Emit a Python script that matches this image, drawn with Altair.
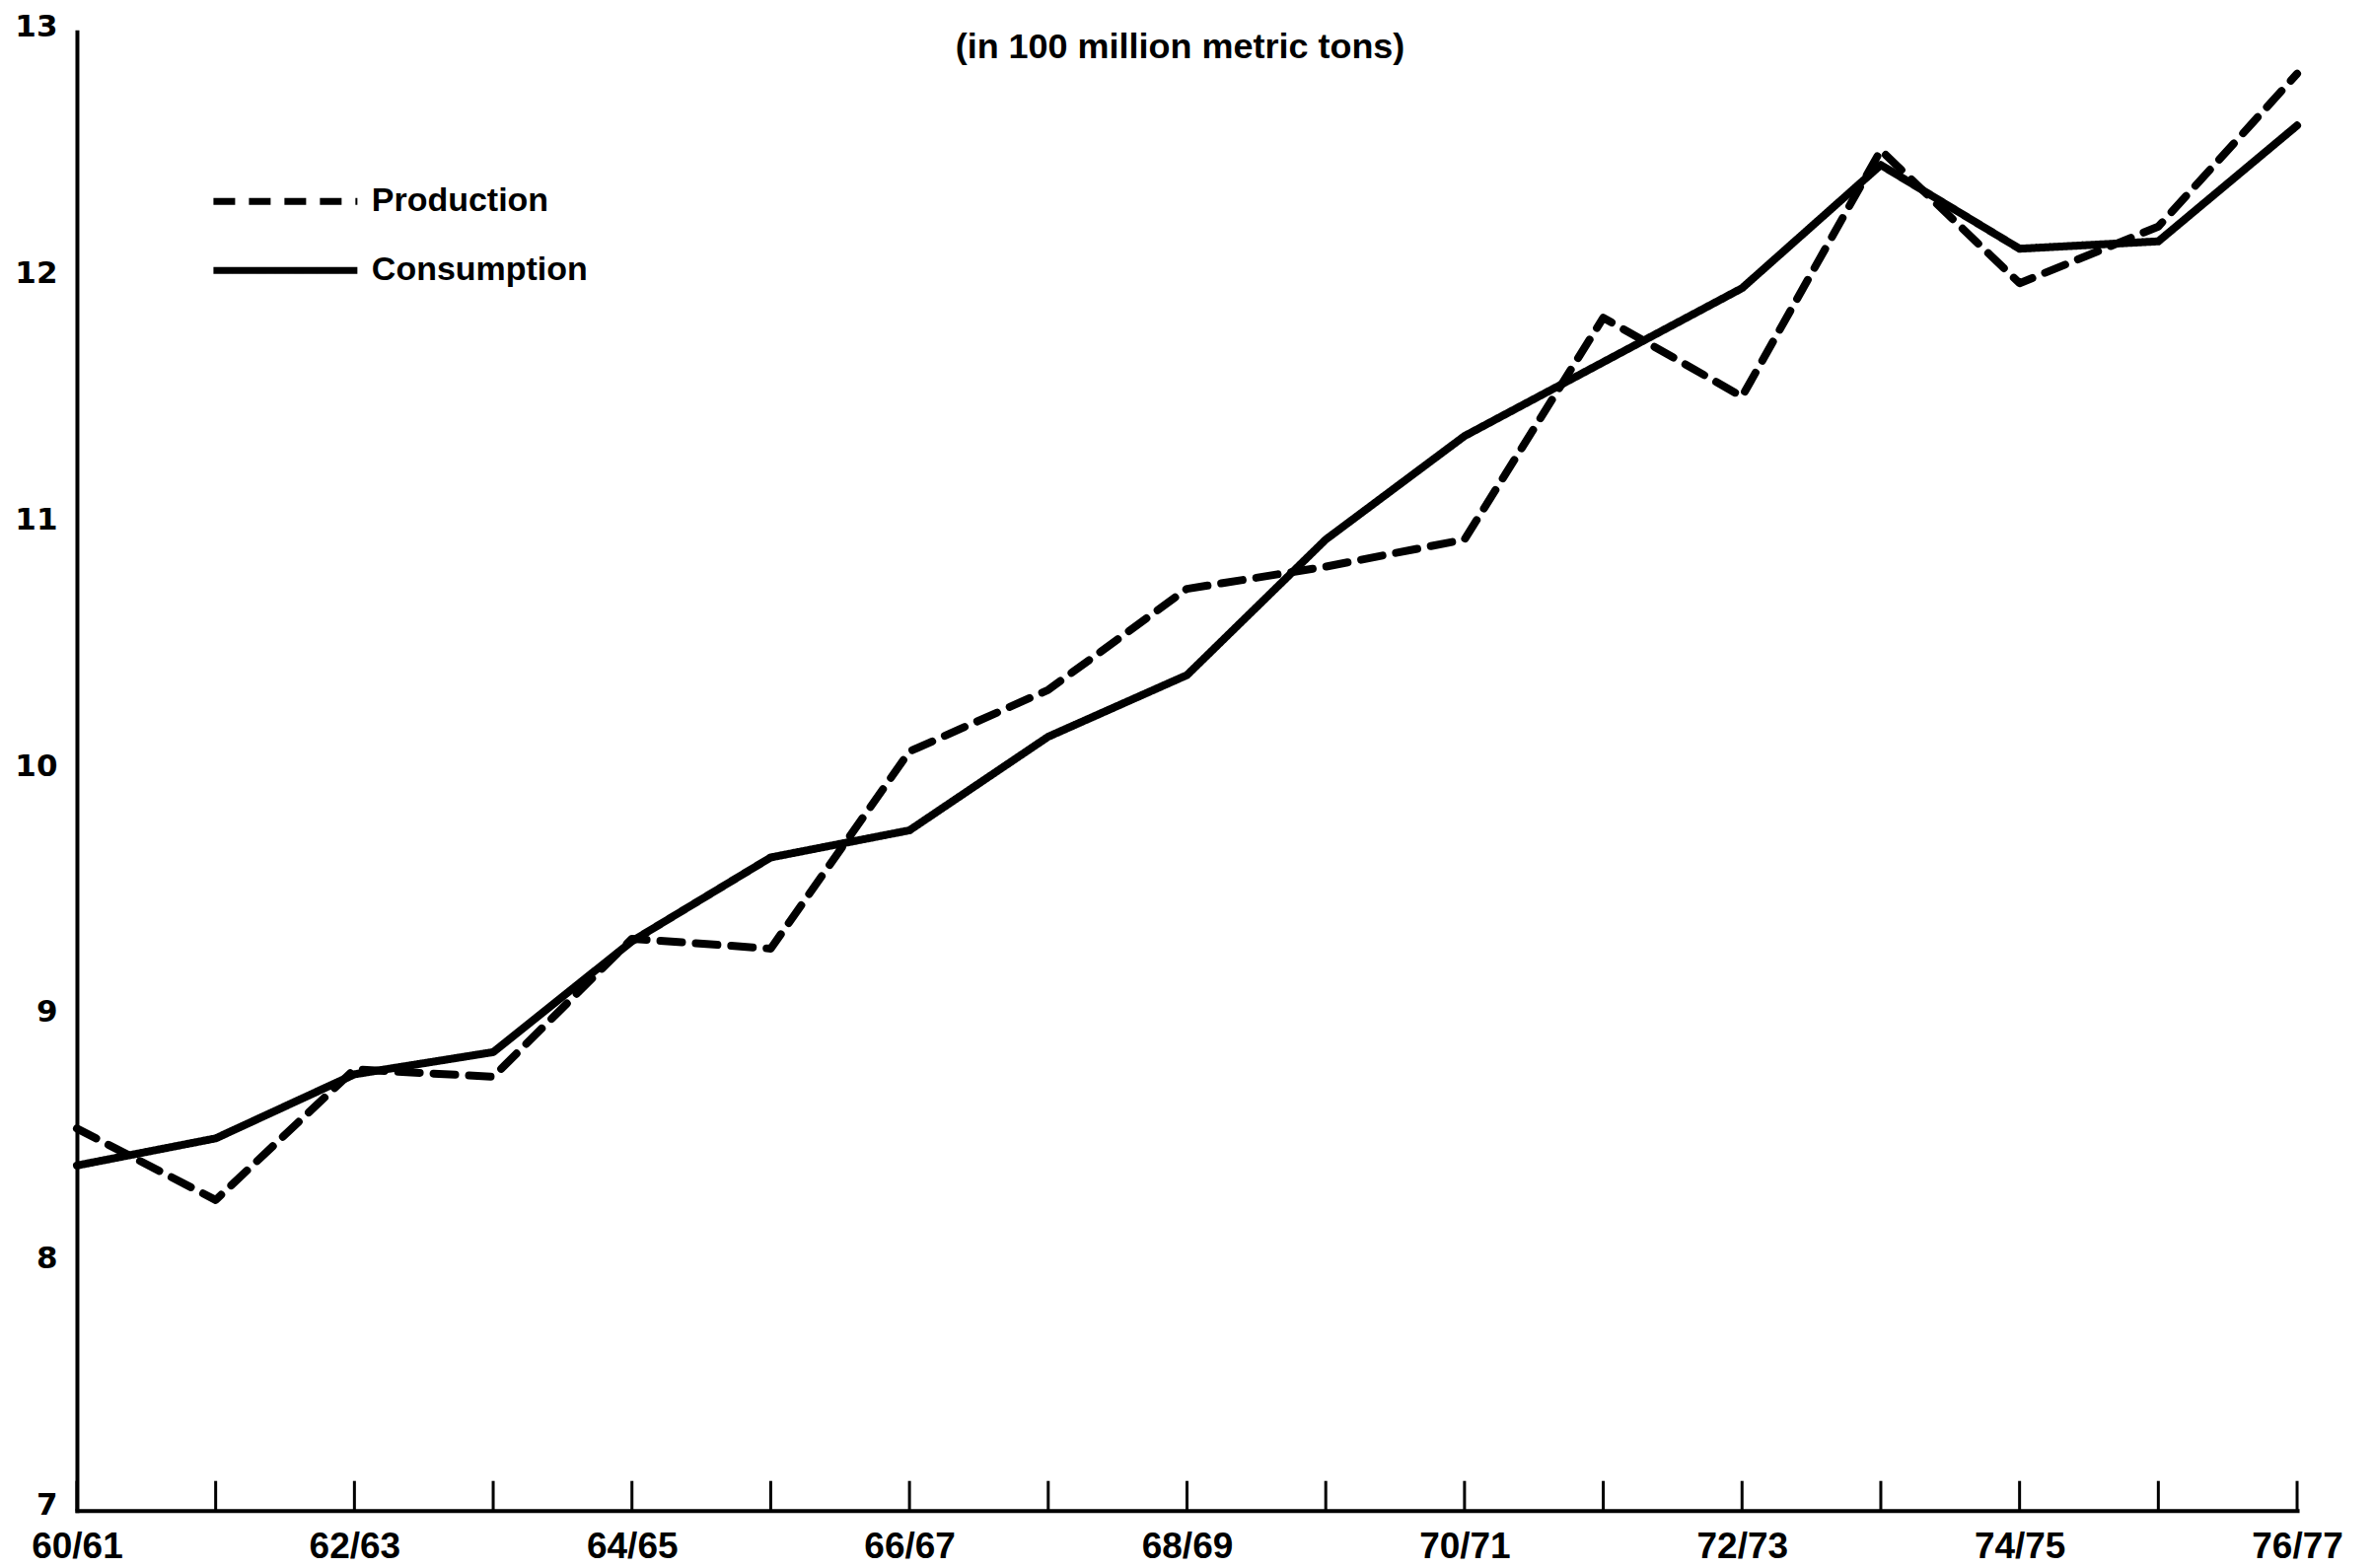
import altair as alt
import pandas as pd

# ---- data ----
seasons = ["60/61", "61/62", "62/63", "63/64", "64/65", "65/66", "66/67", "67/68",
           "68/69", "69/70", "70/71", "71/72", "72/73", "73/74", "74/75", "75/76", "76/77"]
production = [8.55, 8.26, 8.79, 8.76, 9.32, 9.28, 10.08, 10.33, 10.74, 10.83,
              10.94, 11.84, 11.52, 12.52, 11.98, 12.21, 12.83]
consumption = [8.40, 8.51, 8.77, 8.86, 9.31, 9.65, 9.76, 10.14, 10.39, 10.94,
               11.36, 11.66, 11.96, 12.46, 12.12, 12.15, 12.62]
tick_labels = seasons[::2]
series_names = ["Production", "Consumption"]
y_ticks = [7, 8, 9, 10, 11, 12, 13]
subtitle = ["(in 100 million metric tons)"]

df = pd.DataFrame({
    "season": seasons * 2,
    "value": production + consumption,
    "series": ["Production"] * len(seasons) + ["Consumption"] * len(seasons),
})
ticks_df = pd.DataFrame({"season": seasons})
sub_df = pd.DataFrame({"t": subtitle})

W, H = 2252, 1500

x_scale = alt.Scale(type="point", padding=0, domain=seasons)
x_axis = alt.Axis(values=tick_labels, labelAngle=0, ticks=False, grid=False,
                  domainWidth=4, domainColor="black", domainCap="square",
                  labelFont="Liberation Sans", labelFontWeight="bold",
                  labelFontSize=37, labelColor="black", labelPadding=19, title=None)
y_scale = alt.Scale(domain=[7, 13], zero=False, nice=False)
y_axis = alt.Axis(values=y_ticks, format="d", ticks=False, grid=False, domainWidth=4,
                  domainColor="black", domainCap="square",
                  labelFont="DejaVu Sans", labelFontWeight="bold", labelFontSize=31,
                  labelColor="black", labelPadding=20, labelBaseline="alphabetic",
                  labelOffset=4, title=None)

lines = alt.Chart(df).mark_line(
    color="black", strokeWidth=8, strokeCap="round", strokeJoin="round"
).encode(
    x=alt.X("season:N", sort=seasons, scale=x_scale, axis=x_axis),
    y=alt.Y("value:Q", scale=y_scale, axis=y_axis),
    strokeDash=alt.StrokeDash(
        "series:N",
        scale=alt.Scale(domain=series_names, range=[[22, 14], [1, 0]]),
        legend=alt.Legend(
            title=None, orient="none", legendX=135, legendY=154, padding=0,
            symbolType="M-1,0H9.07", symbolSize=841, symbolStrokeWidth=7,
            symbolStrokeColor="black", symbolFillColor="transparent",
            labelFont="Liberation Sans", labelFontWeight="bold", labelFontSize=34,
            labelColor="black", labelOffset=128, labelLimit=600, rowPadding=35,
        ),
    ),
)

ticks = alt.Chart(ticks_df).mark_rule(color="black", strokeWidth=3).encode(
    x=alt.X("season:N", sort=seasons, scale=x_scale, axis=x_axis),
    y=alt.datum(7),
    y2=alt.datum(7.12),
)

sub = alt.Chart(sub_df).mark_text(
    font="Liberation Sans", fontWeight="bold", fontSize=36, align="center",
    baseline="alphabetic", color="black"
).encode(text="t:N", x=alt.value(1119), y=alt.value(27))

chart = alt.layer(lines, ticks, sub).properties(
    width=W, height=H, background="white",
    autosize=alt.AutoSizeParams(type="none"),
    padding={"left": 70, "top": 24, "right": 70, "bottom": 60},
).configure_view(strokeWidth=0)

chart.save("out.html", embed_options={"renderer": "svg", "actions": False})
